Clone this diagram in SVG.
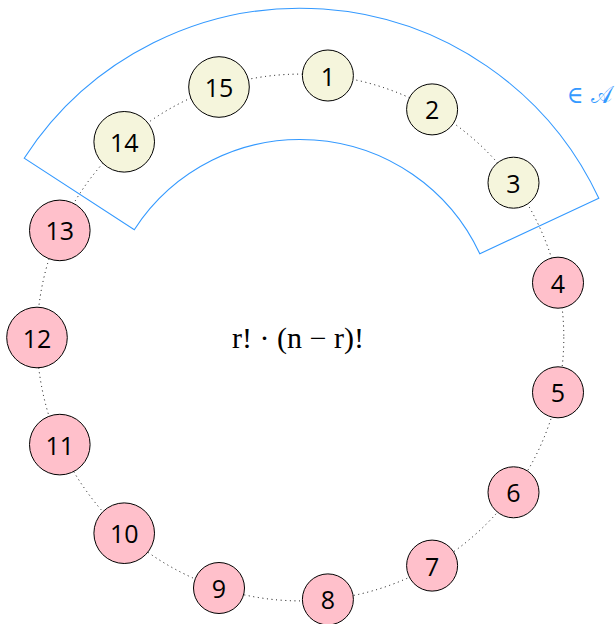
<svg xmlns="http://www.w3.org/2000/svg" width="616" height="624" viewBox="0 0 616 624">
<style>
.n circle{stroke:#000;stroke-width:1}
.a circle{fill:#f5f5dc}
.b circle{fill:#ffc0cb}
.n text{font-family:"Open Sans","Noto Sans",sans-serif;font-size:25px;text-anchor:middle;dominant-baseline:central;fill:#000}
</style>
<rect width="616" height="624" fill="#fff"/>
<g id="connectors">
<circle cx="300.4" cy="337.5" r="263.4" fill="none" stroke="#000" stroke-width="1" stroke-dasharray="1 3.6"/>
</g>
<g id="set-A">
<path d="M 24.2 158.2 A 329.3 329.3 0 0 1 598.8 198.3 L 479.8 253.8 A 198 198 0 0 0 134.3 229.7 Z" fill="none" stroke="#3399ff" stroke-width="1.1"/>
<text x="567" y="102.5" font-family="DejaVu Serif,serif" font-size="24" fill="#3399ff" textLength="45" lengthAdjust="spacingAndGlyphs">∈ 𝒜</text>
</g>
<g id="n1" class="n a"><circle cx="327.9" cy="75.5" r="25.5"/><text x="327.9" y="75.5">1</text></g>
<g id="n2" class="n a"><circle cx="432.1" cy="109.4" r="25.5"/><text x="432.1" y="109.4">2</text></g>
<g id="n3" class="n a"><circle cx="513.5" cy="182.7" r="25.5"/><text x="513.5" y="182.7">3</text></g>
<g id="n4" class="n b"><circle cx="558" cy="282.7" r="25.5"/><text x="558" y="282.7">4</text></g>
<g id="n5" class="n b"><circle cx="558" cy="392.3" r="25.5"/><text x="558" y="392.3">5</text></g>
<g id="n6" class="n b"><circle cx="513.5" cy="492.3" r="25.5"/><text x="513.5" y="492.3">6</text></g>
<g id="n7" class="n b"><circle cx="432.1" cy="565.6" r="25.5"/><text x="432.1" y="565.6">7</text></g>
<g id="n8" class="n b"><circle cx="327.9" cy="599.4" r="25.5"/><text x="327.9" y="599.4">8</text></g>
<g id="n9" class="n b"><circle cx="219" cy="588" r="25.5"/><text x="219" y="588">9</text></g>
<g id="n10" class="n b"><circle cx="124.2" cy="533.2" r="30.3"/><text x="124.2" y="533.2">10</text></g>
<g id="n11" class="n b"><circle cx="59.8" cy="444.6" r="30.3"/><text x="59.8" y="444.6">11</text></g>
<g id="n12" class="n b"><circle cx="37" cy="337.5" r="30.3"/><text x="37" y="337.5">12</text></g>
<g id="n13" class="n b"><circle cx="59.8" cy="230.4" r="30.3"/><text x="59.8" y="230.4">13</text></g>
<g id="n14" class="n a"><circle cx="124.2" cy="141.8" r="30.3"/><text x="124.2" y="141.8">14</text></g>
<g id="n15" class="n a"><circle cx="219" cy="87" r="30.3"/><text x="219" y="87">15</text></g>
<g id="formula">
<text x="298" y="348" font-family="Liberation Serif,serif" font-size="29" text-anchor="middle" textLength="132" lengthAdjust="spacingAndGlyphs">r! · (n − r)!</text>
</g>
</svg>
